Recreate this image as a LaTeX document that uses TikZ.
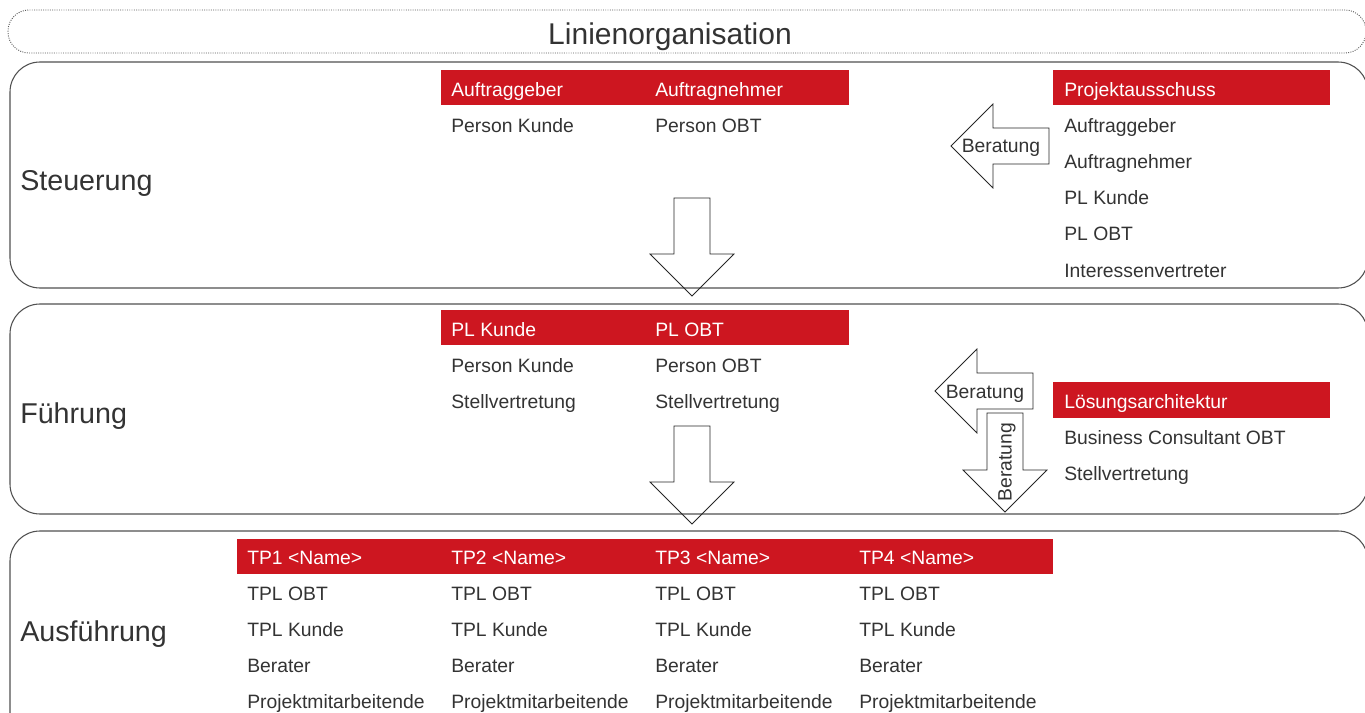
\documentclass[tikz,border=0pt]{standalone}
\usepackage{fontspec}
\setmainfont{Liberation Sans}
\usepackage{tikz}
\definecolor{obtrot}{RGB}{205,22,32}
\definecolor{schrift}{RGB}{51,51,51}
\definecolor{rahmen}{RGB}{80,80,80}
\tikzset{
  ebene/.style={draw=rahmen,line width=0.8pt,rounded corners=22.5pt},
  eintrag/.style={anchor=base west,inner sep=0pt,text=schrift,font=\fontsize{14.5}{16}\selectfont},
  kopf/.style={eintrag,text=white},
  ebenentitel/.style={anchor=base west,inner sep=0pt,text=schrift,font=\fontsize{21.5}{24}\selectfont},
  balken/.style={fill=obtrot},
  blockpfeil/.style={draw=black!85,line width=0.6pt,line join=miter},
}

\begin{document}
\begin{tikzpicture}[x=0.75pt,y=-0.75pt]
\useasboundingbox (0,0) rectangle (1365,713);
\clip (0,0) rectangle (1365,713);
% Linienorganisation
\draw[densely dotted,draw=black!65,line width=0.7pt,rounded corners=15.75pt] (8,10) rectangle (1366,53);
\node[anchor=base,inner sep=0pt,text=schrift,font=\fontsize{22.5}{26}\selectfont] (linie) at (670,45) {Linienorganisation};

% Ebenen
\draw[ebene] (10,62) rectangle (1368,288);
\draw[ebene] (10,304) rectangle (1368,514);
\draw[ebene] (10,531) rectangle (1368,760);
\node[ebenentitel] (steuerung) at (20,191) {Steuerung};
\node[ebenentitel] (fuehrung) at (20,423) {Führung};
\node[ebenentitel] (ausfuehrung) at (20,641) {Ausführung};

% Steuerung
\fill[balken] (441,70) rectangle (849,105);
\node[kopf] (ag) at (451,97) {Auftraggeber};
\node[kopf] (an) at (655,97) {Auftragnehmer};
\node[eintrag] (ag1) at (451,133) {Person Kunde};
\node[eintrag] (an1) at (655,133) {Person OBT};
\fill[balken] (1053,70) rectangle (1330,105);
\node[kopf] (pa) at (1064,97) {Projektausschuss};
\foreach \t [count=\i] in {Auftraggeber,Auftragnehmer,PL Kunde,PL OBT,Interessenvertreter}
  \node[eintrag] (pa\i) at (1064,97+36*\i) {\t};

% Fuehrung
\fill[balken] (441,310) rectangle (849,345);
\node[kopf] (plk) at (451,336) {PL Kunde};
\node[kopf] (plo) at (655,336) {PL OBT};
\node[eintrag] (plk1) at (451,372) {Person Kunde};
\node[eintrag] (plk2) at (451,408) {Stellvertretung};
\node[eintrag] (plo1) at (655,372) {Person OBT};
\node[eintrag] (plo2) at (655,408) {Stellvertretung};
\fill[balken] (1053,382) rectangle (1330,418);
\node[kopf] (la) at (1064,408) {Lösungsarchitektur};
\node[eintrag] (la1) at (1064,444) {Business Consultant OBT};
\node[eintrag] (la2) at (1064,480) {Stellvertretung};

% Ausfuehrung
\fill[balken] (237,539) rectangle (1053,574);
\foreach \x [count=\k] in {247,451,655,859} {
  \node[kopf] (tp\k) at (\x,564) {TP\k\ <Name>};
  \foreach \t [count=\i] in {TPL OBT,TPL Kunde,Berater,Projektmitarbeitende}
    \node[eintrag] (tp\k-\i) at (\x,564+36*\i) {\t};
}

% Pfeile
\draw[blockpfeil] (674,198) -- (710,198) -- (710,254) -- (734,254) -- (692,296) -- (650,254) -- (674,254) -- cycle;
\draw[blockpfeil] (674,426) -- (710,426) -- (710,482) -- (734,482) -- (692,524) -- (650,482) -- (674,482) -- cycle;
\draw[blockpfeil] (1049,128) -- (1049,164) -- (993,164) -- (993,188) -- (951,146) -- (993,104) -- (993,128) -- cycle;
\draw[blockpfeil] (1033,373) -- (1033,409) -- (977,409) -- (977,433) -- (935,391) -- (977,349) -- (977,373) -- cycle;
\draw[blockpfeil] (987,413) -- (1023,413) -- (1023,470) -- (1047,470) -- (1005,512) -- (963,470) -- (987,470) -- cycle;
\node[eintrag,anchor=base] (ber1) at (1001,153) {Beratung};
\node[eintrag,anchor=base] (ber2) at (985,398) {Beratung};
\node[eintrag,anchor=center,rotate=90] (ber3) at (1007,462) {Beratung};
\end{tikzpicture}
\end{document}
